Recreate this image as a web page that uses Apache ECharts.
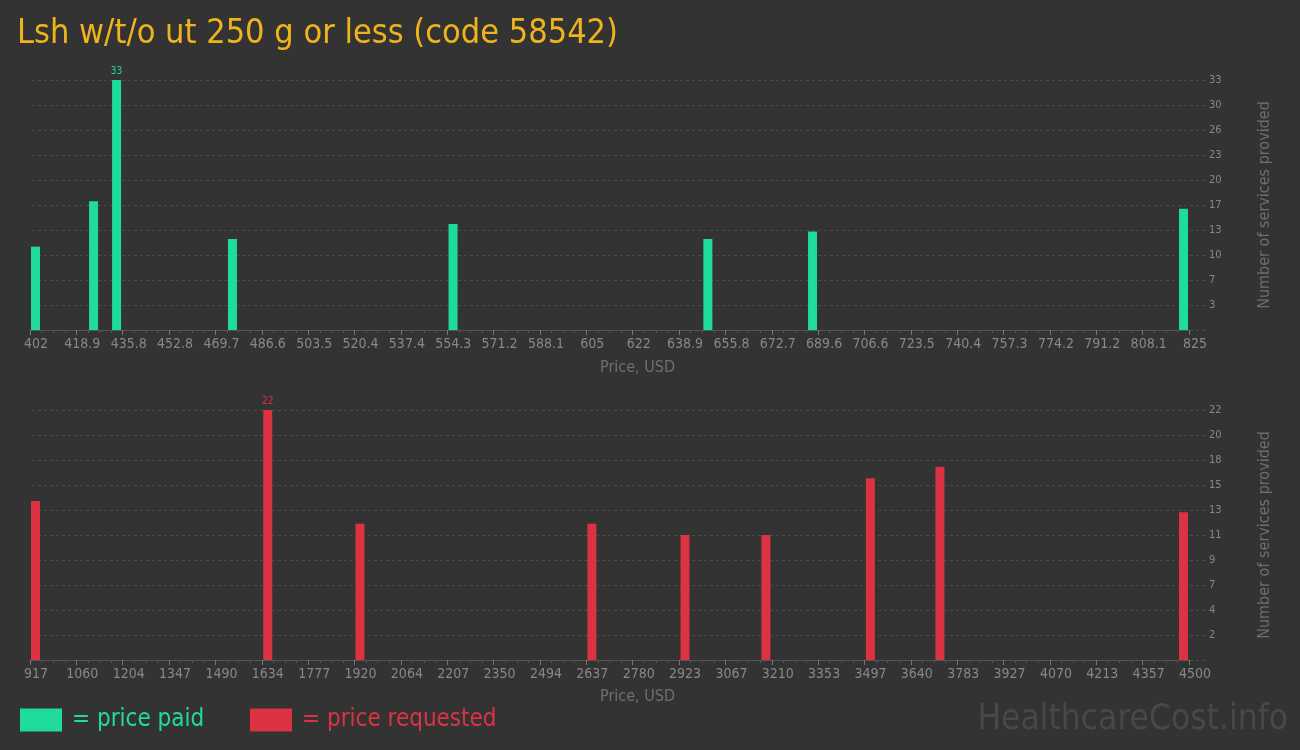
<!DOCTYPE html>
<html>
<head>
<meta charset="utf-8">
<script src="https://cdn.jsdelivr.net/npm/echarts@6/dist/echarts.min.js"></script>
<style>
html,body{margin:0;padding:0;background:#333333;}
#chart{width:1300px;height:750px;}
</style>
</head>
<body>
<div id="chart"></div>
<script>
// ---- data ----
var titleText = 'Lsh w/t/o ut 250 g or less (code 58542)';
var paidPrices = [404, 425.2, 433.6, 475.9, 556.4, 649.4, 687.6, 823];
var paidCounts = [11, 17, 33, 12, 14, 12, 13, 16];
var reqPrices = [934, 1652, 1937, 2654, 2942, 3192, 3515, 3730, 4483];
var reqCounts = [14, 22, 12, 12, 11, 11, 16, 17, 13];
var paidTicks = ['402','418.9','435.8','452.8','469.7','486.6','503.5','520.4','537.4','554.3','571.2','588.1','605','622','638.9','655.8','672.7','689.6','706.6','723.5','740.4','757.3','774.2','791.2','808.1','825'];
var reqTicks = ['917','1060','1204','1347','1490','1634','1777','1920','2064','2207','2350','2494','2637','2780','2923','3067','3210','3353','3497','3640','3783','3927','4070','4213','4357','4500'];
var paidRange = [402, 825];
var reqRange = [917, 4500];
var paidYMax = 33;
var reqYMax = 22;

// ---- style ----
var FONT = '"Liberation Sans Narrow", "DejaVu Sans Condensed", "Roboto", sans-serif';
var GREEN = '#20dc9b';
var RED = '#dc3343';
var GOLD = '#efb41c';
var LABEL = '#888888';
var NAMEC = '#6f6f6f';

function buildData(xs, ys, color) {
  var mx = Math.max.apply(null, ys);
  return xs.map(function (x, i) {
    var d = { value: [x, ys[i]] };
    if (ys[i] === mx) {
      d.label = { show: true, position: 'top', distance: 4, color: color, fontSize: 10, fontFamily: FONT };
    }
    return d;
  });
}

function xAxisFor(gridIndex, range, ticks, show) {
  return {
    type: 'value', gridIndex: gridIndex, show: show,
    min: range[0], max: range[1],
    interval: (range[1] - range[0]) / (ticks.length - 1),
    axisLine: { show: true, lineStyle: { color: '#555555', width: 1 } },
    axisTick: { show: true, length: 5, lineStyle: { color: '#777777' } },
    minorTick: { show: true, splitNumber: 4, length: 3, lineStyle: { color: '#555555' } },
    splitLine: { show: false },
    axisLabel: {
      color: LABEL, fontSize: 14, fontFamily: FONT, margin: 7,
      padding: [0, 0, 0, 12],
      showMinLabel: true, showMaxLabel: true,
      formatter: function (v, i) { return ticks[i]; }
    }
  };
}
function yLinesAxis(gridIndex, max) {
  return {
    type: 'value', gridIndex: gridIndex, position: 'right',
    min: 0, max: max, interval: max / 10,
    name: 'Number of services provided', nameLocation: 'middle', nameRotate: 90, nameGap: 52,
    nameTextStyle: { color: NAMEC, fontSize: 16, fontFamily: FONT },
    axisLine: { show: false }, axisTick: { show: false },
    splitLine: { show: true, lineStyle: { color: '#4b4b4b', type: [3, 3], width: 1 } },
    axisLabel: {
      color: LABEL, fontSize: 11, fontFamily: FONT, margin: 4, showMinLabel: false,
      formatter: function (v) { return String(Math.round(v)); }
    }
  };
}
function yDataAxis(gridIndex, max) {
  return { type: 'value', gridIndex: gridIndex, show: false, min: 0, max: max, splitLine: { show: false } };
}

var chart = echarts.init(document.getElementById('chart'), null, { renderer: 'canvas' });
var option = {
  backgroundColor: '#333333',
  animation: false,
  title: {
    text: titleText, left: 12, top: 12,
    textStyle: { color: GOLD, fontSize: 34, fontWeight: 'normal', fontFamily: FONT }
  },
  legend: [
    { data: ['= price paid'], left: 20, top: 708, padding: 0, itemWidth: 42, itemHeight: 23, icon: 'rect',
      selectedMode: false,
      textStyle: { color: GREEN, fontSize: 24, fontFamily: FONT, padding: [0, 0, 0, 5] } },
    { data: ['= price requested'], left: 250, top: 708, padding: 0, itemWidth: 42, itemHeight: 23, icon: 'rect',
      selectedMode: false,
      textStyle: { color: RED, fontSize: 24, fontFamily: FONT, padding: [0, 0, 0, 5] } }
  ],
  grid: [
    { left: 30, width: 1159, top: 80, height: 250 },   // 0 data top
    { left: 32, width: 1173, top: 80, height: 250 },   // 1 lines top
    { left: 30, width: 1159, top: 410, height: 250 },  // 2 data bottom
    { left: 32, width: 1173, top: 410, height: 250 }   // 3 lines bottom
  ],
  xAxis: [
    xAxisFor(0, paidRange, paidTicks, true),
    { type: 'value', gridIndex: 1, show: false, min: 0, max: 1 },
    xAxisFor(2, reqRange, reqTicks, true),
    { type: 'value', gridIndex: 3, show: false, min: 0, max: 1 }
  ],
  yAxis: [
    yDataAxis(0, paidYMax),
    yLinesAxis(1, paidYMax),
    yDataAxis(2, reqYMax),
    yLinesAxis(3, reqYMax)
  ],
  graphic: [
    { type: 'text', left: 600, top: 360, style: { text: 'Price, USD', fill: NAMEC, fontSize: 16, fontFamily: FONT } },
    { type: 'text', left: 600, top: 689, style: { text: 'Price, USD', fill: NAMEC, fontSize: 16, fontFamily: FONT } },
    { type: 'text', right: 12, top: 702, style: { text: 'HealthcareCost.info', fill: '#484848', fontSize: 35, fontFamily: FONT } }
  ],
  series: [
    { name: '= price paid', type: 'bar', xAxisIndex: 0, yAxisIndex: 0, barWidth: 9,
      itemStyle: { color: GREEN }, data: buildData(paidPrices, paidCounts, GREEN) },
    { name: '= price requested', type: 'bar', xAxisIndex: 2, yAxisIndex: 2, barWidth: 9,
      itemStyle: { color: RED }, data: buildData(reqPrices, reqCounts, RED) }
  ]
};
chart.setOption(option);
</script>
</body>
</html>
